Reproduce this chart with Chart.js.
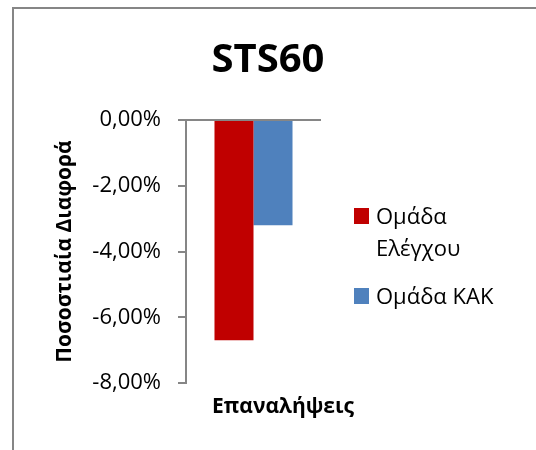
<!DOCTYPE html>
<html>
<head>
<meta charset="utf-8">
<script src="https://cdn.jsdelivr.net/npm/chart.js@4"></script>
<style>
  html, body { margin: 0; padding: 0; background: #fff; }
  #wrap { width: 536px; height: 450px; }
</style>
</head>
<body>
<div id="wrap"><canvas id="stsChart" width="536" height="450"></canvas></div>
<script>
const chartTitle = "STS60";
const categories = ["Επαναλήψεις"];
const seriesLabels = ["Ομάδα Ελέγχου", "Ομάδα ΚΑΚ"];
const controlValues = [-6.7];
const kakValues = [-3.2];
const seriesColors = ["#C00000", "#4F81BD"];
const yTicks = [0, -2, -4, -6, -8];

const axisGray = "#868686";
const font = '"Open Sans", "Noto Sans", sans-serif';

function wrapText(ctx, text, maxWidth) {
  const words = text.split(" ");
  const lines = [];
  let line = "";
  words.forEach(w => {
    const test = line ? line + " " + w : w;
    if (line && ctx.measureText(test).width > maxWidth) {
      lines.push(line);
      line = w;
    } else {
      line = test;
    }
  });
  if (line) lines.push(line);
  return lines;
}

// frame, title, x axis title and the side legend
const decorPlugin = {
  id: "decor",
  beforeDraw(chart) {
    const ctx = chart.ctx;
    ctx.save();
    ctx.strokeStyle = axisGray;
    ctx.lineWidth = 2;
    ctx.strokeRect(13, 8, 700, 700);
    ctx.restore();
  },
  afterDraw(chart) {
    const ctx = chart.ctx;
    ctx.save();
    ctx.fillStyle = "#000";
    ctx.textAlign = "center";
    ctx.textBaseline = "alphabetic";
    ctx.font = "bold 40px " + font;
    ctx.fillText(chartTitle, 268, 72);

    ctx.font = "bold 21px " + font;
    ctx.fillText(categories[0], 283, 413);

    ctx.textAlign = "left";
    ctx.font = "22px " + font;
    let y = 224;
    chart.data.datasets.forEach(ds => {
      const lines = wrapText(ctx, ds.label, 150);
      ctx.fillStyle = ds.backgroundColor;
      ctx.fillRect(354, y - 16, 15, 16);
      ctx.fillStyle = "#000";
      lines.forEach((l, k) => ctx.fillText(l, 376, y + k * 32));
      y += (lines.length - 1) * 32 + 48;
    });
    ctx.restore();
  }
};

new Chart(document.getElementById("stsChart"), {
  type: "bar",
  data: {
    labels: categories,
    datasets: [
      { label: seriesLabels[0], data: controlValues, backgroundColor: seriesColors[0] },
      { label: seriesLabels[1], data: kakValues, backgroundColor: seriesColors[1] }
    ]
  },
  options: {
    responsive: false,
    animation: false,
    layout: { padding: { top: 120, left: 48, right: 215, bottom: 67 } },
    datasets: { bar: { categoryPercentage: 0.578, barPercentage: 1 } },
    plugins: {
      legend: { display: false },
      tooltip: { enabled: false },
      title: { display: false }
    },
    scales: {
      x: {
        ticks: { display: false },
        grid: { display: false },
        border: { display: false },
        afterFit(s) { s.height = 0; }
      },
      y: {
        min: -8,
        max: 0,
        afterBuildTicks(s) { s.ticks = yTicks.map(v => ({ value: v })); },
        afterFit(s) { s.width = 138; },
        ticks: {
          color: "#000",
          padding: 17,
          font: { family: font, size: 22 },
          callback: v => v.toFixed(2).replace(".", ",") + "%"
        },
        grid: {
          drawOnChartArea: true,
          color: c => (c.tick && c.tick.value === 0 ? axisGray : "transparent"),
          tickColor: axisGray,
          tickLength: 8,
          lineWidth: 2
        },
        border: { color: axisGray, width: 2 },
        title: {
          display: true,
          text: "Ποσοστιαία Διαφορά",
          color: "#000",
          font: { family: font, size: 21, weight: "bold" },
          padding: { top: 4, bottom: 0 }
        }
      }
    }
  },
  plugins: [decorPlugin]
});
</script>
</body>
</html>
